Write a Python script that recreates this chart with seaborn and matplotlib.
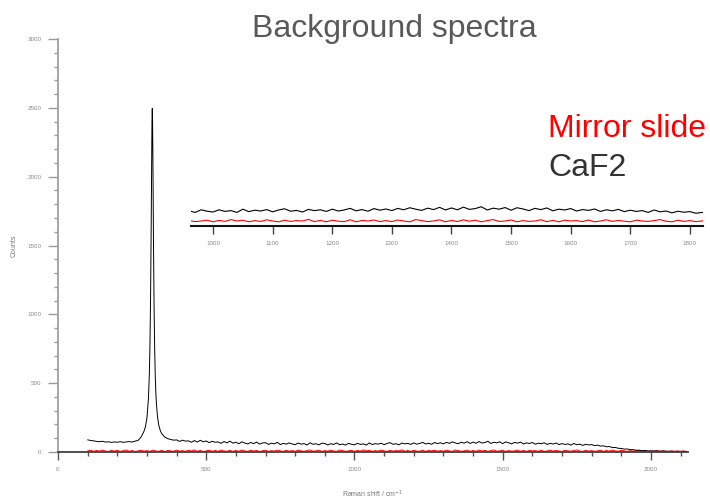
import numpy as np
import pandas as pd
import matplotlib
matplotlib.use("Agg")
import matplotlib.pyplot as plt
import seaborn as sns
from matplotlib.ticker import MultipleLocator

# ---- data ----
shift_start, shift_step = 100, 10
caf2_counts = [
    88, 84, 81, 77, 75, 78, 72, 74, 70, 73,
    71, 75, 70, 73, 76, 72, 79, 84, 108, 150,
    248, 755, 2161, 433, 195, 133, 109, 97, 91, 86,
    88, 77, 86, 79, 81, 71, 83, 72, 85, 74,
    80, 68, 78, 71, 73, 63, 76, 66, 79, 64,
    71, 60, 74, 65, 59, 69, 61, 72, 57, 66,
    68, 55, 64, 59, 70, 54, 63, 57, 66, 58,
    53, 65, 57, 61, 51, 67, 56, 60, 52, 64,
    62, 51, 60, 55, 66, 53, 58, 50, 63, 56,
    52, 63, 55, 59, 50, 66, 54, 61, 57, 64,
    53, 62, 68, 56, 60, 52, 65, 59, 63, 55,
    66, 57, 62, 70, 58, 64, 56, 69, 61, 67,
    59, 70, 63, 73, 66, 60, 71, 64, 75, 62,
    72, 63, 76, 65, 69, 78, 62, 71, 66, 74,
    61, 73, 67, 59, 70, 64, 72, 58, 66, 62,
    69, 57, 64, 60, 67, 55, 63, 58, 65, 54,
    61, 55, 59, 50, 62, 53, 57, 48, 56, 51,
    54, 46, 50, 43, 45, 38, 40, 32, 33, 27,
    26, 21, 22, 17, 17, 13, 13, 10, 11, 8,
    8, 7, 8, 6, 7, 5, 6, 5, 4, 5,
    4, 5, 4,
]
# extra points resolving the sharp CaF2 band near 318 cm-1
peak_shift = [295, 305, 308, 312, 314, 316, 317, 318, 319, 322, 324, 326, 328, 332, 336, 345]
peak_counts = [184, 387, 559, 1067, 1551, 2161, 2403, 2495, 2403, 1551, 1067, 755, 559, 349, 248, 155]

mirror_counts = [
    8, 13, 4, 11, 6, 14, 7, 3, 12, 6,
    12, 4, 9, 15, 5, 11, 3, 8, 13, 6,
    10, 4, 14, 7, 5, 12, 3, 11, 8, 5,
    14, 6, 10, 4, 13, 7, 15, 5, 11, 3,
    8, 13, 5, 11, 4, 14, 7, 5, 12, 4,
    11, 5, 15, 8, 4, 13, 6, 11, 3, 9,
    13, 4, 10, 6, 14, 8, 4, 12, 6, 10,
    5, 14, 8, 4, 11, 15, 6, 8, 13, 4,
    10, 6, 13, 7, 4, 14, 10, 5, 8, 12,
    4, 11, 6, 15, 8, 12, 4, 10, 6, 14,
    8, 4, 12, 6, 10, 8, 16, 5, 11, 4,
    12, 7, 5, 14, 4, 11, 8, 13, 5, 10,
    5, 13, 8, 4, 15, 10, 5, 8, 14, 4,
    11, 5, 14, 7, 12, 4, 10, 15, 6, 8,
    13, 4, 10, 6, 8, 14, 5, 11, 4, 12,
    8, 10, 5, 13, 4, 8, 14, 6, 11, 7,
    4, 12, 8, 6, 10, 15, 7, 4, 12, 6,
    10, 5, 8, 13, 4, 11, 6, 14, 8, 5,
    12, 8, 4, 10, 6, 9, 12, 5, 10, 4,
    8, 6, 10, 4, 9, 6, 3, 8, 5, 7,
    5, 7, 4,
]

x_ticks = [0, 500, 1000, 1500, 2000]
y_ticks = [0, 500, 1000, 1500, 2000, 2500, 3000]
inset_ticks = [1000, 1100, 1200, 1300, 1400, 1500, 1600, 1700, 1800]

title = "Background spectra"
series_names = ["Mirror slide", "CaF2"]
series_colors = ["#ff0000", "#000000"]
label_colors = ["#ff0000", "#333333"]

# ---- build table ----
grid = shift_start + shift_step * np.arange(len(caf2_counts))
caf2 = pd.DataFrame({"shift": np.concatenate([grid, peak_shift]),
                     "counts": np.concatenate([caf2_counts, peak_counts]),
                     "sample": "CaF2"}).sort_values("shift")
mirror = pd.DataFrame({"shift": grid, "counts": mirror_counts, "sample": "Mirror slide"})
df = pd.concat([mirror, caf2], ignore_index=True)

sns.set_style("white")
plt.rcParams["font.family"] = ["Liberation Sans", "DejaVu Sans"]

W, H = 710, 500
fig = plt.figure(figsize=(W / 100, H / 100), dpi=100)
ax = fig.add_axes([58 / W, 48 / H, (688 - 58) / W, (452 - 39) / H])

pal = dict(zip(series_names, series_colors))
sns.lineplot(data=df, x="shift", y="counts", hue="sample", palette=pal,
             estimator=None, sort=False, linewidth=0.7, legend=False, ax=ax)

ax.set_xlim(0, 2125)
ax.set_ylim(0, 3000)
ax.set_xticks(x_ticks)
ax.set_yticks(y_ticks)
ax.xaxis.set_minor_locator(MultipleLocator(100))
ax.yaxis.set_minor_locator(MultipleLocator(100))
for s in ["top", "right"]:
    ax.spines[s].set_visible(False)
ax.spines["left"].set_color("#a0a0a0")
ax.spines["left"].set_linewidth(1.3)
ax.spines["bottom"].set_color("#404040")
ax.spines["bottom"].set_linewidth(1.3)
ax.tick_params(axis="both", which="both", direction="out", labelsize=4.5,
               labelcolor="#8a8a8a", pad=5)
ax.tick_params(axis="y", which="major", length=7, width=1, color="#999999", left=True)
ax.tick_params(axis="y", which="minor", length=3, width=1, color="#999999", left=True)
ax.tick_params(axis="x", which="major", length=6, width=1, color="#555555", bottom=True)
ax.tick_params(axis="x", which="minor", length=3, width=1, color="#555555", bottom=True)
ax.set_xlabel("Raman shift / cm$^{-1}$", fontsize=5, color="#7a7a7a", labelpad=12)
ax.set_ylabel("Counts", fontsize=5, color="#7a7a7a", labelpad=7)
ax.grid(False)

# ---- inset ----
ins = fig.add_axes([191 / W, (500 - 226) / H, (703 - 191) / W, 21 / H])
ins.set_facecolor("none")
sns.lineplot(data=df, x="shift", y="counts", hue="sample", palette=pal,
             estimator=None, sort=False, linewidth=0.8, legend=False, ax=ins)
ins.set_xlim(963, 1822)
ins.set_ylim(-16.5, 86.5)
ins.set_xticks(inset_ticks)
ins.set_yticks([])
for s in ["top", "right", "left"]:
    ins.spines[s].set_visible(False)
ins.spines["bottom"].set_color("#111111")
ins.spines["bottom"].set_linewidth(1.5)
ins.tick_params(axis="x", direction="out", length=6, width=1, color="#444444",
                labelsize=4.5, labelcolor="#8a8a8a", pad=5, bottom=True)
ins.set_xlabel("")
ins.set_ylabel("")

# ---- texts ----
fig.text(394 / W, 1 - 37 / H, title, ha="center", va="baseline",
         fontsize=23, color="#595959")
fig.text(548 / W, 1 - 137 / H, series_names[0], ha="left", va="baseline",
         fontsize=23, color=label_colors[0])
fig.text(548 / W, 1 - 176 / H, series_names[1], ha="left", va="baseline",
         fontsize=23, color=label_colors[1])

fig.savefig("out.png", dpi=100)
